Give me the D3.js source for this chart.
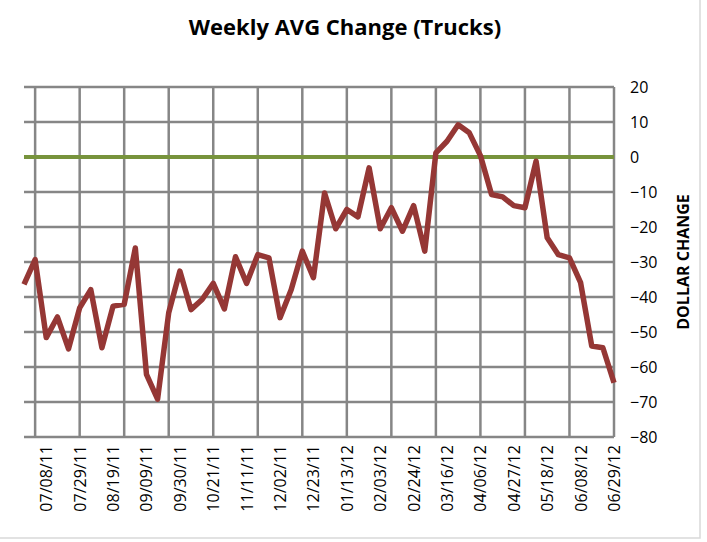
<!DOCTYPE html>
<html><head><meta charset="utf-8">
<script src="https://cdn.jsdelivr.net/npm/d3@7"></script>
<style>body{margin:0;background:#fff}svg{display:block;font-family:"Open Sans","Liberation Sans",sans-serif}</style>
</head><body><svg id="c" width="707" height="542"></svg>
<script>
const tickLabels = ["07/08/11","07/29/11","08/19/11","09/09/11","09/30/11","10/21/11","11/11/11","12/02/11","12/23/11","01/13/12","02/03/12","02/24/12","03/16/12","04/06/12","04/27/12","05/18/12","06/08/12","06/29/12"];
const values = [-36.4,-29.3,-51.6,-45.7,-54.8,-43.1,-37.9,-54.5,-42.6,-42.1,-26.0,-62.1,-69.2,-44.5,-32.6,-43.6,-40.7,-36.1,-43.4,-28.5,-36.1,-27.9,-28.8,-45.9,-37.9,-26.9,-34.5,-10.3,-20.5,-15.0,-17.1,-3.1,-20.5,-14.5,-21.2,-13.9,-26.9,1.2,4.5,9.2,6.9,0.4,-10.7,-11.4,-13.9,-14.5,-1.2,-23.1,-27.9,-28.8,-35.9,-54.0,-54.5,-64.5];
const yTicks = [20,10,0,-10,-20,-30,-40,-50,-60,-70,-80];

const svg = d3.select("#c");
const L=24,R=614,T=87,B=437;
const x = d3.scaleLinear().domain([0,values.length-1]).range([L,R]);
const y = d3.scaleLinear().domain([-80,20]).range([B,T]);
svg.append("rect").attr("x",-2).attr("y",-2).attr("width",702).attr("height",540).attr("fill","none").attr("stroke","#d9d9d9").attr("stroke-width",1.5);
svg.append("text").attr("x",345).attr("y",35).attr("text-anchor","middle").attr("font-size",22).attr("font-weight","bold").text("Weekly AVG Change (Trucks)");
const g = svg.append("g");
g.selectAll(".h").data(yTicks).join("line").attr("x1",L).attr("x2",R).attr("y1",d=>y(d)).attr("y2",d=>y(d)).attr("stroke","#868686").attr("stroke-width",2.5);
const gridIdx = d3.range(1,values.length,4);
g.selectAll(".v").data(gridIdx).join("line").attr("x1",d=>x(d)).attr("x2",d=>x(d)).attr("y1",T).attr("y2",B).attr("stroke","#868686").attr("stroke-width",2.5);
g.append("line").attr("x1",L).attr("x2",R).attr("y1",y(0)).attr("y2",y(0)).attr("stroke","#77933C").attr("stroke-width",4);
const ya = d3.axisRight(y).tickValues(yTicks).tickSize(0).tickPadding(16);
const yg = svg.append("g").attr("transform",`translate(${R},0)`).call(ya);
yg.select(".domain").remove();
yg.selectAll("text").attr("font-size",16).attr("font-family","Open Sans, sans-serif").attr("fill","#000");
const labIdx = tickLabels.map((t,i)=>2+i*3);
labIdx.forEach((idx,i)=>{
  svg.append("text").attr("transform",`translate(${x(idx)+6},445) rotate(-90)`).attr("text-anchor","end").attr("font-size",16).text(tickLabels[i]);
});
svg.append("text").attr("transform","translate(689,262) rotate(-90)").attr("text-anchor","middle").attr("font-size",16).attr("font-weight","bold").text("DOLLAR CHANGE");
const line = d3.line().x((d,i)=>x(i)).y(d=>y(d));
g.append("path").datum(values).attr("d",line).attr("fill","none").attr("stroke","#953735").attr("stroke-width",5.5).attr("stroke-linejoin","round");
</script></body></html>
